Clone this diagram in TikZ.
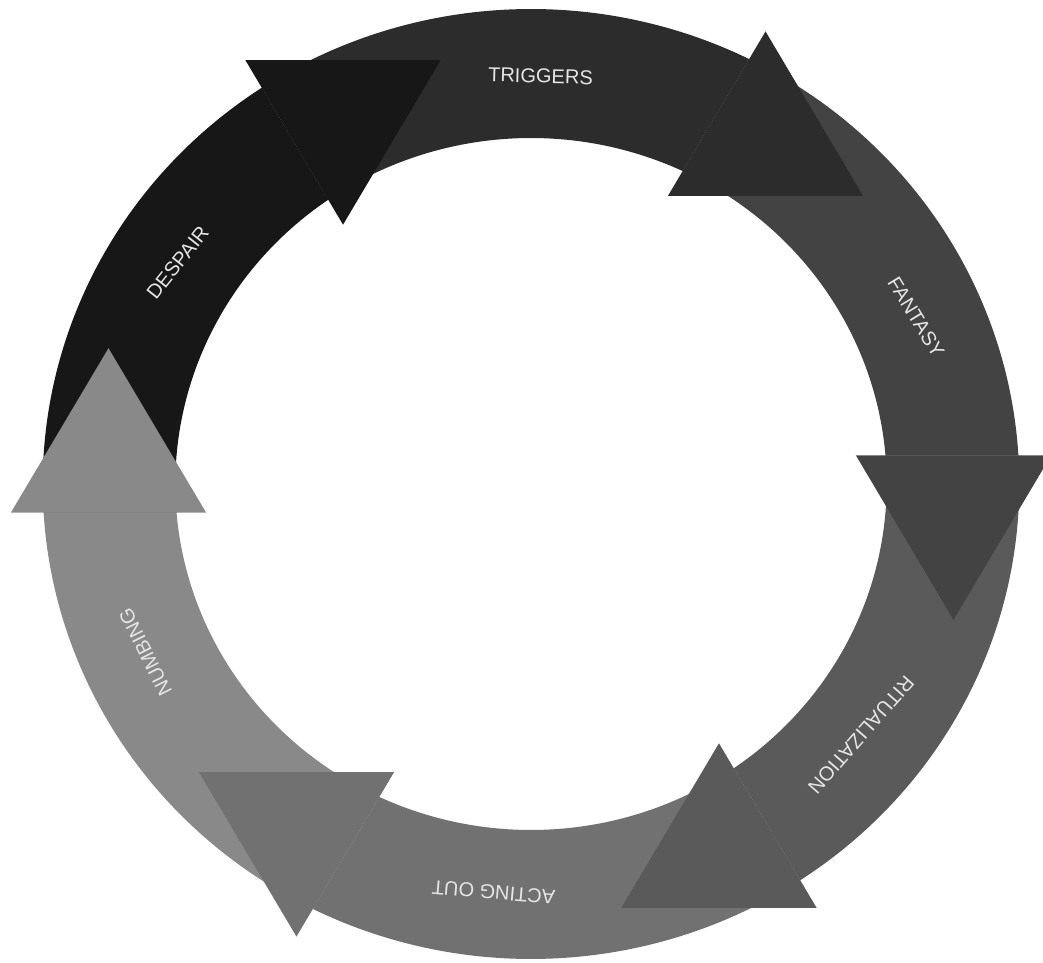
\documentclass[tikz,border=0pt]{standalone}
\usepackage{fontspec}
\setmainfont{Liberation Sans}
\usetikzlibrary{calc}

\definecolor{despairgray}{HTML}{171717}
\definecolor{triggersgray}{HTML}{2C2C2C}
\definecolor{fantasygray}{HTML}{434343}
\definecolor{ritualgray}{HTML}{5A5A5A}
\definecolor{actinggray}{HTML}{717171}
\definecolor{numbinggray}{HTML}{898989}

\begin{document}
\begin{tikzpicture}[
  x = 0.02cm, y = 0.02cm,
  font        = \fontsize{11.4}{13}\selectfont,
  % stage label sitting on the ring
  stage/.style = {text=white!90!black, inner sep=0pt},
]

% Frame: 1043 x 962, ring centre at (531,484) from the top left
\fill[white] (-531,-478) rectangle (512,484);
\useasboundingbox (-531,-478) rectangle (512,484);
\clip (-531,-478) rectangle (512,484);

% Ring is a little wider than tall.  Heads every 60 degrees.
\begin{scope}[xscale=1.028]

% ── Ring segments (inner r=346, outer r=475) ──────────────────────────────
\foreach \ang/\col in {120/despairgray, 60/triggersgray, 0/fantasygray,
                       -60/ritualgray, -120/actinggray, -180/numbinggray}{
  \fill[\col, rotate=\ang]
    (64.757:346) arc[start angle=64.757, end angle=4.757, radius=346]
    -- (3.464:475) arc[start angle=3.464, end angle=63.464, radius=475]
    -- cycle;
}

% ── Arrow heads, drawn over the start of the next segment ─────────────────
\foreach \ang/\col in {120/despairgray, 60/triggersgray, 0/fantasygray,
                       -60/ritualgray, -120/actinggray, -180/numbinggray}{
  \fill[\col, rotate=\ang] (316,28.7) -- (506,28.7) -- (411,-135.8) -- cycle;
}

% ── Stage labels ──────────────────────────────────────────────────────────
\node[stage, rotate=-1.5]   (triggers)      at (88.7:408)  {TRIGGERS};
\node[stage, rotate=-58.7]  (fantasy)       at (24:410)    {FANTASY};
\node[stage, rotate=-131.3] (ritualization) at (-38:407.5) {RITUALIZATION};
\node[stage, rotate=175]    (actingout)     at (-95.1:410) {ACTING OUT};
\node[stage, rotate=116.6]  (numbing)       at (204.1:411) {NUMBING};
\node[stage, rotate=51.4]   (despair)       at (147.2:409) {DESPAIR};

\end{scope}

\end{tikzpicture}
\end{document}
